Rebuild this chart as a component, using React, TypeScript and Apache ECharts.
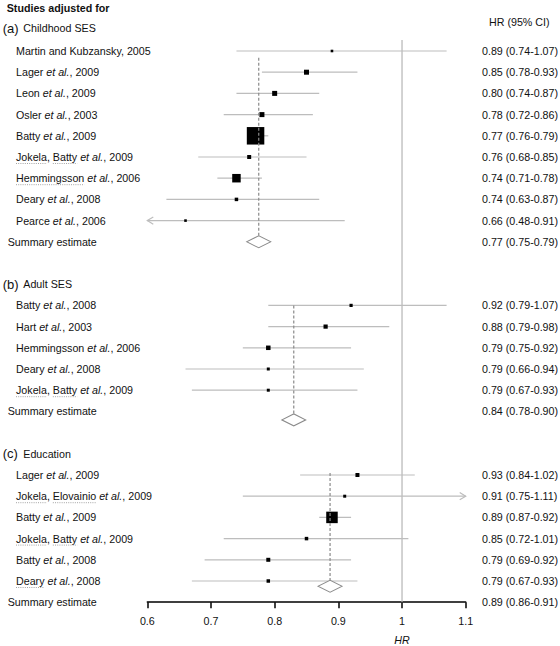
import React, { useEffect, useRef } from 'react';
import * as echarts from 'echarts';

// ---------- data ----------
const headerTitle = 'Studies adjusted for';
const columnTitle = 'HR (95% CI)';
const axisTitle = 'HR';
const groupLetters = ['(a)', '(b)', '(c)'];
const groupNames = ['Childhood SES', 'Adult SES', 'Education'];

const studyLabels = [
  'Martin and Kubzansky, 2005',
  'Lager {i|et al.}, 2009',
  'Leon {i|et al.}, 2009',
  'Osler {i|et al.}, 2003',
  'Batty {i|et al.}, 2009',
  'Jokela, Batty {i|et al.}, 2009',
  'Hemmingsson {i|et al.}, 2006',
  'Deary {i|et al.}, 2008',
  'Pearce {i|et al.}, 2006',
  'Batty {i|et al.}, 2008',
  'Hart {i|et al.}, 2003',
  'Hemmingsson {i|et al.}, 2006',
  'Deary {i|et al.}, 2008',
  'Jokela, Batty {i|et al.}, 2009',
  'Lager {i|et al.}, 2009',
  'Jokela, Elovainio {i|et al.}, 2009',
  'Batty {i|et al.}, 2009',
  'Jokela, Batty {i|et al.}, 2009',
  'Batty {i|et al.}, 2008',
  'Deary {i|et al.}, 2008',
];
const studyGroup = [0, 0, 0, 0, 0, 0, 0, 0, 0, 1, 1, 1, 1, 1, 2, 2, 2, 2, 2, 2];
const studyHR = [0.89, 0.85, 0.8, 0.78, 0.77, 0.76, 0.74, 0.74, 0.66, 0.92, 0.88, 0.79, 0.79, 0.79, 0.93, 0.91, 0.89, 0.85, 0.79, 0.79];
const studyLow = [0.74, 0.78, 0.74, 0.72, 0.76, 0.68, 0.71, 0.63, 0.48, 0.79, 0.79, 0.75, 0.66, 0.67, 0.84, 0.75, 0.87, 0.72, 0.69, 0.67];
const studyHigh = [1.07, 0.93, 0.87, 0.86, 0.79, 0.85, 0.78, 0.87, 0.91, 1.07, 0.98, 0.92, 0.94, 0.93, 1.02, 1.11, 0.92, 1.01, 0.92, 0.93];
const studyBoxSize = [2.6, 5, 5, 5, 17.5, 4, 8.5, 3.5, 2.6, 3.2, 4.2, 4.5, 3, 3, 4, 3, 11.5, 3.5, 4, 3.5];
const studyUnderline = [
  [], [], [], [], [], ['Jokela', 'Batty'], ['Hemmingsson'], [], [],
  [], [], [], [], ['Jokela', 'Batty'],
  [], ['Jokela', 'Elovainio'], [], ['Jokela', 'Batty'], [], ['Deary'],
];

const summaryLabel = 'Summary estimate';
const summaryHR = [0.775, 0.83, 0.887];
const summaryText = ['0.77 (0.75-0.79)', '0.84 (0.78-0.90)', '0.89 (0.86-0.91)'];
const summaryDiamondShift = [0, 0.4, -0.75];
const summaryLineStartShift = [0.32, 0, -0.1];

const xTicks = [0.6, 0.7, 0.8, 0.9, 1.0, 1.1];
const refValue = 1;
const refLineTopSlot = 1.48;

// ---------- layout ----------
const W = 560;
const H = 646;
const TOP = 8.6;
const ROW_H = 21.2;
const GRID_LEFT = 147.3;
const GRID_WIDTH = 318.4;
const X_MIN = xTicks[0];
const X_MAX = xTicks[xTicks.length - 1];
const FONT = "'Liberation Sans', Arial, Helvetica, sans-serif";
const FS = 10.7;

const headerSlot: number[] = [];
const studySlot: number[] = [];
const summarySlot: number[] = [];
(() => {
  let slot = 1;
  groupNames.forEach((_, g) => {
    headerSlot.push(slot);
    slot++;
    studyGroup.forEach((sg, i) => {
      if (sg === g) studySlot[i] = slot++;
    });
    summarySlot.push(slot);
    slot += 2;
  });
})();
const MAX_SLOT = summarySlot[summarySlot.length - 1];
const slotY = (s: number) => TOP + s * ROW_H;

const fmt = (v: number) => v.toFixed(2);

function measure(text: string, font: string) {
  const c = document.createElement('canvas').getContext('2d');
  if (!c) return text.length * 5.5;
  c.font = font;
  return c.measureText(text).width;
}

export default function App() {
  const ref = useRef<HTMLDivElement>(null);
  useEffect(() => {
    if (!ref.current) return;
    const chart = echarts.init(ref.current, undefined, { renderer: 'svg' });

    const texts: any[] = [];
    const txt = (x: number, y: number, text: string, extra: any = {}) => {
      texts.push({
        type: 'text',
        x,
        y,
        silent: true,
        style: {
          text,
          fill: '#111',
          fontFamily: FONT,
          fontSize: FS,
          verticalAlign: 'middle',
          align: 'left',
          ...extra,
        },
      });
    };

    txt(6.7, 7.5, headerTitle, { fontWeight: 'bold' });
    txt(489, 21.7, columnTitle);

    groupNames.forEach((name, g) => {
      const y = slotY(headerSlot[g]) - (g === 0 ? 1.5 : 0);
      txt(2.7, y, groupLetters[g], { fontSize: 13 });
      txt(23.3, y, name);
      const sy = slotY(summarySlot[g]);
      txt(7.7, sy, summaryLabel);
      txt(482, sy, summaryText[g]);
    });

    const baseFont = `${FS}px ${FONT}`;
    studyLabels.forEach((label, i) => {
      const y = slotY(studySlot[i]);
      txt(16, y, label, {
        rich: {
          i: { fontStyle: 'italic', fontSize: FS, fontFamily: FONT, fill: '#111' },
        },
      });
      txt(482, y, `${fmt(studyHR[i])} (${fmt(studyLow[i])}-${fmt(studyHigh[i])})`);
      const plain = label.replace(/\{i\|([^}]*)\}/g, '$1');
      studyUnderline[i].forEach((word) => {
        const idx = plain.indexOf(word);
        if (idx < 0) return;
        const x0 = 16 + measure(plain.slice(0, idx), baseFont);
        const w = measure(word, baseFont);
        texts.push({
          type: 'line',
          silent: true,
          shape: { x1: x0, y1: y + 6.5, x2: x0 + w, y2: y + 6.5 },
          style: { stroke: '#9a9a9a', lineWidth: 0.9, lineDash: [1, 1.2] },
        });
      });
    });

    texts.push({
      type: 'text',
      x: GRID_LEFT + ((refValue - X_MIN) / (X_MAX - X_MIN)) * GRID_WIDTH,
      y: 640,
      silent: true,
      style: {
        text: axisTitle,
        fill: '#111',
        fontFamily: FONT,
        fontSize: FS,
        fontStyle: 'italic',
        align: 'center',
        verticalAlign: 'middle',
      },
    });

    const ciColor = '#bdbdbd';
    const arrow = (x: number, y: number, dir: number) => ({
      type: 'polyline',
      shape: { points: [[x - dir * 6, y - 3.6], [x, y], [x - dir * 6, y + 3.6]] },
      style: { stroke: ciColor, fill: 'none', lineWidth: 1.2 },
    });

    const option: any = {
      animation: false,
      grid: { left: GRID_LEFT, width: GRID_WIDTH, top: TOP, height: MAX_SLOT * ROW_H },
      xAxis: {
        type: 'value',
        position: 'bottom',
        min: X_MIN,
        max: X_MAX,
        interval: 0.1,
        axisLine: { show: true, onZero: false, lineStyle: { color: '#000', width: 1.5 } },
        axisTick: { show: true, inside: false, length: 6, lineStyle: { color: '#000', width: 1.5 } },
        splitLine: { show: false },
        axisLabel: {
          margin: 13,
          color: '#111',
          fontSize: FS,
          fontFamily: FONT,
          formatter: (v: number) => String(Math.round(v * 10) / 10),
        },
      },
      yAxis: { type: 'value', min: 0, max: MAX_SLOT, inverse: true, show: false },
      series: [
        {
          type: 'custom',
          name: 'ref',
          z: 1,
          data: [[refValue, refLineTopSlot, MAX_SLOT]],
          encode: { x: 0, y: [1, 2] },
          renderItem: (_p: any, api: any) => {
            const a = api.coord([api.value(0), api.value(1)]);
            const b = api.coord([api.value(0), api.value(2)]);
            return {
              type: 'line',
              shape: { x1: a[0], y1: a[1], x2: b[0], y2: b[1] },
              style: { stroke: '#b5b5b5', lineWidth: 1.2 },
            };
          },
        },
        {
          type: 'custom',
          name: 'ci',
          z: 2,
          data: studyHR.map((_, i) => [studyLow[i], studyHigh[i], studySlot[i]]),
          encode: { x: [0, 1], y: 2 },
          renderItem: (_p: any, api: any) => {
            const lo = api.value(0);
            const hi = api.value(1);
            const s = api.value(2);
            const a = api.coord([Math.max(lo, X_MIN), s]);
            const b = api.coord([Math.min(hi, X_MAX), s]);
            const children: any[] = [
              {
                type: 'line',
                shape: { x1: a[0], y1: a[1], x2: b[0], y2: b[1] },
                style: { stroke: ciColor, lineWidth: 1.2 },
              },
            ];
            if (lo < X_MIN) children.push(arrow(a[0], a[1], -1));
            if (hi > X_MAX) children.push(arrow(b[0], b[1], 1));
            return { type: 'group', children };
          },
        },
        {
          type: 'scatter',
          name: 'hr',
          z: 3,
          symbol: 'rect',
          symbolSize: (v: number[]) => v[2],
          itemStyle: { color: '#000', opacity: 1 },
          data: studyHR.map((v, i) => [v, studySlot[i], studyBoxSize[i]]),
        },
        {
          type: 'custom',
          name: 'summaryLine',
          z: 4,
          data: summaryHR.map((v, g) => [
            v,
            studySlot[studyGroup.indexOf(g)] + summaryLineStartShift[g],
            summarySlot[g] + summaryDiamondShift[g],
          ]),
          encode: { x: 0, y: [1, 2] },
          renderItem: (_p: any, api: any) => {
            const a = api.coord([api.value(0), api.value(1)]);
            const b = api.coord([api.value(0), api.value(2)]);
            return {
              type: 'line',
              shape: { x1: a[0], y1: a[1], x2: b[0], y2: b[1] - 6 },
              style: { stroke: '#8a8a8a', lineWidth: 1.2, lineDash: [3, 2] },
            };
          },
        },
        {
          type: 'scatter',
          name: 'summary',
          z: 5,
          symbol: 'diamond',
          symbolSize: [24, 12],
          itemStyle: { color: '#fff', borderColor: '#8a8a8a', borderWidth: 1.1, opacity: 1 },
          data: summaryHR.map((v, g) => [v, summarySlot[g] + summaryDiamondShift[g]]),
        },
      ],
      graphic: texts,
    };
    chart.setOption(option);
    return () => chart.dispose();
  }, []);

  return (
    <div
      ref={ref}
      style={{ position: 'absolute', left: 0, top: 0, width: W, height: H, background: '#fff' }}
    />
  );
}
